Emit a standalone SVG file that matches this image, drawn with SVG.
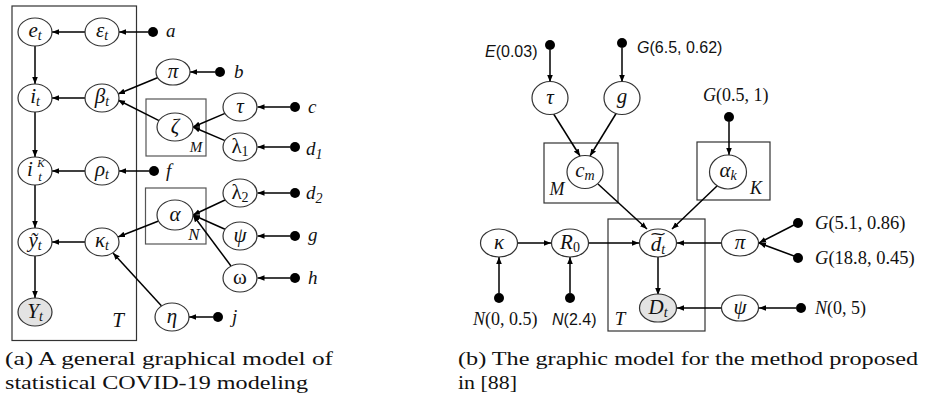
<svg xmlns="http://www.w3.org/2000/svg" width="925" height="399" viewBox="0 0 925 399">
<style>
.n{fill:#fff;stroke:#333;stroke-width:1.2}
.obs{fill:#e3e3e3;stroke:#333;stroke-width:1.2}
.pl{fill:none;stroke:#333;stroke-width:1.2}
.pl2{fill:none;stroke:#555;stroke-width:1.2}
.e{fill:none;stroke:#000;stroke-width:1.5;marker-end:url(#ah)}
.dot{fill:#000}
.t{font-family:"Liberation Serif","DejaVu Serif",serif;font-style:italic;font-size:21px;fill:#111;text-anchor:middle}
.lab{font-family:"Liberation Serif","DejaVu Serif",serif;font-style:italic;font-size:19px;fill:#111}
.sans{font-family:"Liberation Sans","DejaVu Sans",sans-serif;font-size:16px;fill:#111}
.cap{font-family:"Liberation Serif","DejaVu Serif",serif;font-size:19px;fill:#111}
.s{font-size:14px}
</style>
<defs>
<marker id="ah" viewBox="0 0 10 10" refX="10" refY="5" markerWidth="7" markerHeight="7" markerUnits="userSpaceOnUse" orient="auto"><path d="M0,1 L10,5 L0,9 z" fill="#000"/></marker>
</defs>

<!-- plates (a) -->
<g id="plateT_a"><rect class="pl" x="12" y="6" width="124.5" height="334.5"/><text class="t" x="118" y="327">T</text></g>
<g id="plateM_a"><rect class="pl2" x="146" y="99" width="60" height="57"/><text class="t" x="196" y="152" style="font-size:15px">M</text></g>
<g id="plateN_a"><rect class="pl2" x="145.5" y="188" width="60.5" height="56"/><text class="t" x="194" y="240" style="font-size:17px">N</text></g>

<!-- plates (b) -->
<g id="plateM_b"><rect class="pl" x="544" y="143" width="74" height="60"/><text class="t" x="557" y="195" style="font-size:18px">M</text></g>
<g id="plateK_b"><rect class="pl" x="697" y="142" width="73" height="58"/><text class="t" x="756" y="194" style="font-size:18px">K</text></g>
<g id="plateT_b"><rect class="pl" x="608" y="219" width="97" height="112"/><text class="t" x="620" y="325" style="font-size:19px">T</text></g>

<!-- connectors -->
<g id="connectors">
<path class="e" d="M148,32 L119,32"/>
<path class="e" d="M85,32 L52,32"/>
<path class="e" d="M35,46 L35,84"/>
<path class="e" d="M85,98 L52,98"/>
<path class="e" d="M158,77.5 L118,94"/>
<path class="e" d="M159,120.6 L118,100"/>
<path class="e" d="M215,72 L190,72"/>
<path class="e" d="M290,107 L257.5,107"/>
<path class="e" d="M290,147 L257.5,147"/>
<path class="e" d="M225,113.4 L193,127"/>
<path class="e" d="M225,140.6 L193,127"/>
<path class="e" d="M35,112 L35,157"/>
<path class="e" d="M85,171 L52,171"/>
<path class="e" d="M149,171 L119,171"/>
<path class="e" d="M35,185 L35,228"/>
<path class="e" d="M85,242 L52,242"/>
<path class="e" d="M158.6,221 L118,237"/>
<path class="e" d="M161.6,306 L113,253"/>
<path class="e" d="M225,200 L193,215"/>
<path class="e" d="M225,229.3 L193,215"/>
<path class="e" d="M231,266 L193,215"/>
<path class="e" d="M290,193 L257.5,193"/>
<path class="e" d="M290,236 L257.5,236"/>
<path class="e" d="M290,278 L257.5,278"/>
<path class="e" d="M213,317 L189,317"/>
<path class="e" d="M35,256 L35,298"/>

<path class="e" d="M550,50 L550,82"/>
<path class="e" d="M622,48 L622,82"/>
<path class="e" d="M553,113 L580,156"/>
<path class="e" d="M617,112 L590,156"/>
<path class="e" d="M598,184 L647,229"/>
<path class="e" d="M717,186 L672,229"/>
<path class="e" d="M729,122 L729,155"/>
<path class="e" d="M517,243 L551,243"/>
<path class="e" d="M589,243 L639,243"/>
<path class="e" d="M721,243 L677,243"/>
<path class="e" d="M499,293 L499,257"/>
<path class="e" d="M570,293 L570,257"/>
<path class="e" d="M658,257 L658,295"/>
<path class="e" d="M721,308 L677,308"/>
<path class="e" d="M796,308 L759,308"/>
<path class="e" d="M794,225 L759,243"/>
<path class="e" d="M794,256 L759,243"/>
</g>

<!-- hyperparameter dots (a) -->
<g id="dots_a">
<circle class="dot" cx="153" cy="32" r="5"/><text class="lab" x="166" y="37">a</text>
<circle class="dot" cx="220" cy="72" r="5"/><text class="lab" x="234" y="78">b</text>
<circle class="dot" cx="295" cy="107" r="5"/><text class="lab" x="308" y="113">c</text>
<circle class="dot" cx="295" cy="147" r="5"/><text class="lab" x="306" y="155">d<tspan class="s" dy="4">1</tspan></text>
<circle class="dot" cx="154" cy="171" r="5"/><text class="lab" x="166" y="177">f</text>
<circle class="dot" cx="295" cy="193" r="5"/><text class="lab" x="306" y="199">d<tspan class="s" dy="4">2</tspan></text>
<circle class="dot" cx="295" cy="236" r="5"/><text class="lab" x="308" y="241">g</text>
<circle class="dot" cx="295" cy="278" r="5"/><text class="lab" x="308" y="284">h</text>
<circle class="dot" cx="218" cy="317" r="5"/><text class="lab" x="232" y="323">j</text>
</g>

<!-- nodes (a) -->
<g id="e_t"><ellipse class="n" cx="35" cy="32" rx="17" ry="14"/><text class="t" x="35" y="37">e<tspan class="s" dy="3">t</tspan></text></g>
<g id="eps_t"><ellipse class="n" cx="102" cy="32" rx="17" ry="14"/><text class="t" x="102" y="37">ε<tspan class="s" dy="3">t</tspan></text></g>
<g id="i_t"><ellipse class="n" cx="35" cy="98" rx="17" ry="14"/><text class="t" x="35" y="103">i<tspan class="s" dy="3">t</tspan></text></g>
<g id="beta_t"><ellipse class="n" cx="102" cy="98" rx="17" ry="14"/><text class="t" x="102" y="103">β<tspan class="s" dy="3">t</tspan></text></g>
<g id="iK_t"><ellipse class="n" cx="35" cy="171" rx="17" ry="14"/><text class="t" x="30" y="176">i</text><text class="t" x="41" y="167" style="font-size:11px">K</text><text class="t" x="40" y="181" style="font-size:13px">t</text></g>
<g id="rho_t"><ellipse class="n" cx="102" cy="171" rx="17" ry="14"/><text class="t" x="102" y="176">ρ<tspan class="s" dy="3">t</tspan></text></g>
<g id="y_t"><ellipse class="n" cx="35" cy="242" rx="17" ry="14"/><text class="t" x="35" y="247">ỹ<tspan class="s" dy="3">t</tspan></text></g>
<g id="kappa_t"><ellipse class="n" cx="102" cy="242" rx="17" ry="14"/><text class="t" x="102" y="247">κ<tspan class="s" dy="3">t</tspan></text></g>
<g id="Y_t"><ellipse class="obs" cx="35" cy="312" rx="17" ry="14"/><text class="t" x="35" y="318">Y<tspan class="s" dy="3">t</tspan></text></g>
<g id="pi_a"><ellipse class="n" cx="173" cy="72" rx="17" ry="13"/><text class="t" x="173" y="78">π</text></g>
<g id="zeta"><ellipse class="n" cx="175" cy="127" rx="18" ry="14"/><text class="t" x="175" y="133">ζ</text></g>
<g id="tau_a"><ellipse class="n" cx="240" cy="107" rx="17" ry="14"/><text class="t" x="240" y="113">τ</text></g>
<g id="lambda1"><ellipse class="n" cx="240" cy="147" rx="17" ry="14"/><text class="t" x="240" y="153" style="font-style:normal">λ<tspan class="s" dy="3">1</tspan></text></g>
<g id="alpha"><ellipse class="n" cx="175" cy="215" rx="18" ry="15"/><text class="t" x="175" y="221">α</text></g>
<g id="lambda2"><ellipse class="n" cx="240" cy="193" rx="17" ry="14"/><text class="t" x="240" y="199" style="font-style:normal">λ<tspan class="s" dy="3">2</tspan></text></g>
<g id="psi_a"><ellipse class="n" cx="240" cy="236" rx="17" ry="14"/><text class="t" x="240" y="242">ψ</text></g>
<g id="omega"><ellipse class="n" cx="240" cy="278" rx="17" ry="14"/><text class="t" x="240" y="284" style="font-style:normal">ω</text></g>
<g id="eta"><ellipse class="n" cx="172" cy="317" rx="17" ry="14"/><text class="t" x="172" y="323">η</text></g>

<!-- hyperparameters (b) -->
<g id="dots_b">
<circle class="dot" cx="550" cy="45" r="5"/><text class="sans" x="485" y="57"><tspan font-style="italic">E</tspan>(0.03)</text>
<circle class="dot" cx="622" cy="43" r="5"/><text class="sans" x="637" y="53"><tspan font-style="italic">G</tspan>(6.5, 0.62)</text>
<circle class="dot" cx="729" cy="117" r="5"/><text class="lab" x="703" y="101" style="font-size:18px">G<tspan font-style="normal">(0.5, 1)</tspan></text>
<circle class="dot" cx="499" cy="298" r="5"/><text class="lab" x="473" y="325" style="font-size:18px">N<tspan font-style="normal">(0, 0.5)</tspan></text>
<circle class="dot" cx="570" cy="298" r="5"/><text class="sans" x="552" y="325"><tspan font-style="italic">N</tspan>(2.4)</text>
<circle class="dot" cx="798" cy="223" r="5"/><text class="lab" x="815" y="229" style="font-size:18.5px">G<tspan font-style="normal">(5.1, 0.86)</tspan></text>
<circle class="dot" cx="798" cy="258" r="5"/><text class="lab" x="815" y="264" style="font-size:18.5px">G<tspan font-style="normal">(18.8, 0.45)</tspan></text>
<circle class="dot" cx="801" cy="308" r="5"/><text class="lab" x="815" y="314" style="font-size:18px">N<tspan font-style="normal">(0, 5)</tspan></text>
</g>

<!-- nodes (b) -->
<g id="tau_b"><ellipse class="n" cx="550" cy="98" rx="18" ry="16.5"/><text class="t" x="550" y="104">τ</text></g>
<g id="g_b"><ellipse class="n" cx="622" cy="98" rx="18" ry="16.5"/><text class="t" x="622" y="103">g</text></g>
<g id="c_m"><ellipse class="n" cx="585" cy="172" rx="18" ry="16.5"/><text class="t" x="585" y="177">c<tspan class="s" dy="3">m</tspan></text></g>
<g id="alpha_k"><ellipse class="n" cx="728" cy="172" rx="18.5" ry="17"/><text class="t" x="728" y="177">α<tspan class="s" dy="3">k</tspan></text></g>
<g id="kappa_b"><ellipse class="n" cx="499" cy="243" rx="18.5" ry="14"/><text class="t" x="499" y="249">κ</text></g>
<g id="R_0"><ellipse class="n" cx="570" cy="243" rx="18.5" ry="14"/><text class="t" x="570" y="249">R<tspan class="s" dy="3" font-style="normal">0</tspan></text></g>
<g id="d_t"><ellipse class="n" cx="658" cy="243" rx="18.5" ry="14"/><text class="t" x="658" y="251">d<tspan class="s" dy="3">t</tspan></text><text x="658" y="239" style="font-family:'DejaVu Sans',sans-serif;font-size:14px;fill:#111;text-anchor:middle" transform="translate(658 0) scale(1.5 1) translate(-658 0)">~</text></g>
<g id="D_t"><ellipse class="obs" cx="658" cy="308" rx="18.5" ry="14"/><text class="t" x="658" y="314">D<tspan class="s" dy="3">t</tspan></text></g>
<g id="pi_b"><ellipse class="n" cx="740" cy="243" rx="18.5" ry="13"/><text class="t" x="740" y="249">π</text></g>
<g id="psi_b"><ellipse class="n" cx="740" cy="308" rx="18.5" ry="13"/><text class="t" x="740" y="314">ψ</text></g>

<!-- captions -->
<g id="captions">
<text class="cap" x="5" y="365" textLength="328" lengthAdjust="spacingAndGlyphs">(a) A general graphical model of</text>
<text class="cap" x="5" y="389" textLength="303" lengthAdjust="spacingAndGlyphs">statistical COVID-19 modeling</text>
<text class="cap" x="458" y="365" textLength="460" lengthAdjust="spacingAndGlyphs">(b) The graphic model for the method proposed</text>
<text class="cap" x="458" y="389" textLength="59" lengthAdjust="spacingAndGlyphs">in [88]</text>
</g>
</svg>
